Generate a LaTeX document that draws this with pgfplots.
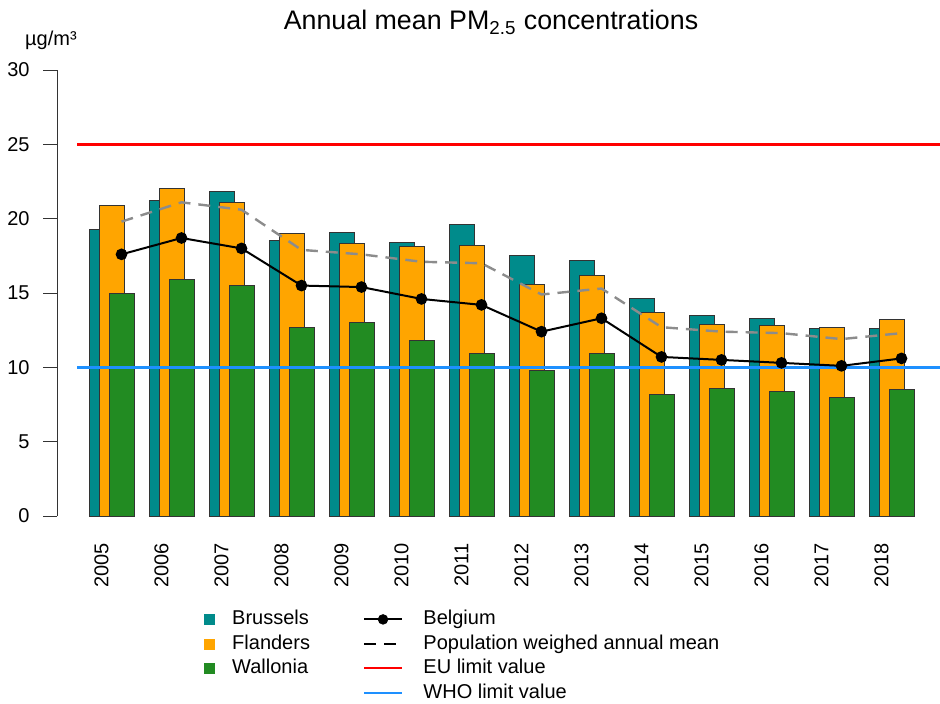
\documentclass[border=0pt]{standalone}
\usepackage{fontspec}
\setmainfont{Liberation Sans}
\usepackage{pgfplots}
\usepackage{pgfplotstable}
\pgfplotsset{compat=1.18}

\definecolor{cbrus}{HTML}{008B8B}
\definecolor{cfland}{HTML}{FFA500}
\definecolor{cwall}{HTML}{228B22}
\definecolor{ceu}{HTML}{FF0000}
\definecolor{cwho}{HTML}{1E90FF}
\definecolor{cpop}{HTML}{8C8C8C}

% i = year index (0 = 2005), values in ug/m3
\pgfplotstableread{
i  brus  fland wall belg pop
0  19.3  20.9  15.0 17.6 19.8
1  21.2  22.0  15.9 18.7 21.1
2  21.8  21.1  15.5 18.0 20.6
3  18.5  19.0  12.7 15.5 17.9
4  19.1  18.3  13.0 15.4 17.6
5  18.4  18.1  11.8 14.6 17.1
6  19.6  18.2  10.9 14.2 17.0
7  17.5  15.6   9.8 12.4 14.9
8  17.2  16.2  10.9 13.3 15.3
9  14.6  13.7   8.2 10.7 12.7
10 13.5  12.9   8.6 10.5 12.4
11 13.3  12.8   8.4 10.3 12.3
12 12.6  12.7   8.0 10.1 11.9
13 12.6  13.2   8.5 10.6 12.3
}\pmdata

\begin{document}
\begin{tikzpicture}
\path[use as bounding box] (-28.5bp,-94bp) rectangle (441.5bp,258bp);
\begin{axis}[
  at={(0,0)}, anchor=south west,
  scale only axis, width=441.5bp, height=223bp,
  xmin=-0.742, xmax=13.975, ymin=0, ymax=30,
  clip=false,
  axis x line*=bottom, axis y line*=left,
  x axis line style={draw=none},
  y axis line style={black!80, line width=0.5bp},
  tick align=outside, major tick length=7bp,
  xtick={0,...,13},
  xticklabels={2005,2006,2007,2008,2009,2010,2011,2012,2013,2014,2015,2016,2017,2018},
  xtick style={draw=none},
  ytick={0,5,...,30},
  ytick style={black!80, line width=0.5bp},
  /pgf/number format/assume math mode=true,
  tick label style={font=\fontsize{10bp}{12bp}\selectfont},
  xticklabel style={yshift=-6.5bp, rotate=90, anchor=east, inner sep=0pt},
  yticklabel style={xshift=-6.5bp, anchor=east, inner sep=0pt},
  every axis title/.style={at={(axis description cs:0.4915,1.0897)}, anchor=base,
    font=\fontsize{13.4bp}{16bp}\selectfont},
  title={Annual mean PM\textsubscript{2.5} concentrations},
  legend columns=2,
  legend cell align=left,
  legend style={draw=none, fill=none, inner sep=0pt,
    at={(axis description cs:0.1665,-0.2052)}, anchor=north west,
    font=\fontsize{10bp}{12bp}\selectfont,
    row sep=0.75bp,
    nodes={inner sep=1bp, text height=7.5bp, text depth=2bp},
    /tikz/every odd column/.append style={column sep=7.5bp},
    /tikz/every even column/.append style={column sep=25.5bp}},
]
\addplot[ybar, bar width=0.4167, bar shift=0pt, fill=cbrus, draw=black!80, line width=0.5bp, forget plot]
  table[x=i, y=brus]{\pmdata};
\addplot[ybar, bar width=0.4167, bar shift=0pt, fill=cfland, draw=black!80, line width=0.5bp, forget plot]
  table[x expr=\thisrow{i}+1/6, y=fland]{\pmdata};
\addplot[ybar, bar width=0.4167, bar shift=0pt, fill=cwall, draw=black!80, line width=0.5bp, forget plot]
  table[x expr=\thisrow{i}+1/3, y=wall]{\pmdata};
\addplot[ceu, line width=1.2bp, forget plot] coordinates {(-0.408,25) (13.975,25)};
\addplot[cwho, line width=1.2bp, forget plot] coordinates {(-0.408,10) (13.975,10)};
\addplot[cpop, line width=1.2bp, dash pattern=on 6bp off 4bp, forget plot]
  table[x expr=\thisrow{i}+1/3, y=pop]{\pmdata};
\addplot[black, line width=1bp, mark=*, mark size=2.4bp, forget plot]
  table[x expr=\thisrow{i}+1/3, y=belg]{\pmdata};

\node[anchor=base, font=\fontsize{10bp}{12bp}\selectfont] at (axis description cs:-0.0068,1.056) {µg/m³};

% legend, filled row by row
\addlegendimage{legend image code/.code={\fill[cbrus] (0bp,-2.5bp) rectangle (5bp,2.5bp);}}
\addlegendentry{Brussels}
\addlegendimage{legend image code/.code={\draw[black, line width=1bp] (0bp,0bp) -- (19bp,0bp); \fill[black] (9.5bp,0bp) circle (2.4bp); \path (21bp,0bp);}}
\addlegendentry{Belgium}
\addlegendimage{legend image code/.code={\fill[cfland] (0bp,-2.5bp) rectangle (5bp,2.5bp);}}
\addlegendentry{Flanders}
\addlegendimage{legend image code/.code={\draw[black, line width=1bp, dash pattern=on 6bp off 4bp] (0bp,0bp) -- (19bp,0bp); \path (21bp,0bp);}}
\addlegendentry{Population weighed annual mean}
\addlegendimage{legend image code/.code={\fill[cwall] (0bp,-2.5bp) rectangle (5bp,2.5bp);}}
\addlegendentry{Wallonia}
\addlegendimage{legend image code/.code={\draw[ceu, line width=1bp] (0bp,0bp) -- (19bp,0bp); \path (21bp,0bp);}}
\addlegendentry{EU limit value}
\addlegendimage{empty legend}
\addlegendentry{}
\addlegendimage{legend image code/.code={\draw[cwho, line width=1bp] (0bp,0bp) -- (19bp,0bp); \path (21bp,0bp);}}
\addlegendentry{WHO limit value}
\end{axis}
\end{tikzpicture}
\end{document}
